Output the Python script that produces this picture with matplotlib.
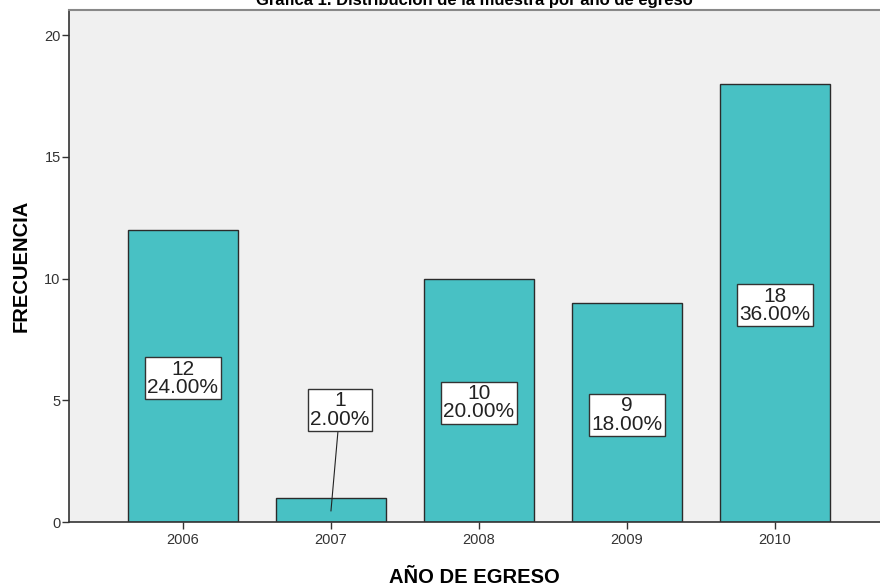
import matplotlib.pyplot as plt

# Distribución de la muestra por año de egreso
years = ["2006", "2007", "2008", "2009", "2010"]
freq = [12, 1, 10, 9, 18]
pct = [24.00, 2.00, 20.00, 18.00, 36.00]
# vertical position of each label box (in data units)
label_y = [5.9, 4.6, 4.9, 4.4, 8.9]

plt.rcParams['font.family'] = ['Liberation Sans', 'DejaVu Sans']

fig = plt.figure(figsize=(8.8, 5.88), dpi=100)
ax = fig.add_axes([69 / 880, 1 - 522 / 588, 811 / 880, 512 / 588])
ax.set_facecolor("#F0F0F0")

x = range(len(years))
ax.bar(x, freq, width=0.745, color="#48C1C4", edgecolor="#2b2b2b", linewidth=1, zorder=2)

box = dict(boxstyle="square,pad=0.12", fc="white", ec="#333333", lw=1)
for i in x:
    txt = "%d\n%.2f%%" % (freq[i], pct[i])
    if freq[i] < 2:
        # small bar: box above with a leader line
        ax.annotate(txt, xy=(i, freq[i] * 0.45), xytext=(i + 0.06, label_y[i]),
                    ha="center", va="center", fontsize=15, linespacing=0.95, color="#222222",
                    bbox=box,
                    arrowprops=dict(arrowstyle="-", color="#222222", lw=0.8,
                                    shrinkA=0, shrinkB=0), zorder=4)
    else:
        ax.text(i, label_y[i], txt, ha="center", va="center", fontsize=15, linespacing=0.95,
                color="#222222", bbox=box, zorder=4)

ax.set_xlim(-0.77, 4.71)
ax.set_ylim(0, 21.03)
ax.set_xticks(list(x))
ax.set_xticklabels(years)
ax.set_yticks([0, 5, 10, 15, 20])
ax.tick_params(axis="both", direction="out", length=5, width=1, colors="#333333", labelsize=10.5)
ax.tick_params(axis="y", pad=1)
ax.tick_params(axis="x", pad=3)

for s in ["left", "bottom"]:
    ax.spines[s].set_color("#333333")
    ax.spines[s].set_linewidth(1.2)
ax.spines["top"].set_color("#888888")
ax.spines["top"].set_linewidth(1.5)
ax.spines["right"].set_visible(False)

ax.set_xlabel("AÑO DE EGRESO", fontsize=14.5, fontweight="bold", labelpad=15)
ax.set_ylabel("FRECUENCIA", fontsize=14.5, fontweight="bold", labelpad=10)

fig.text(474 / 880, 1 - 1 / 588, "Gráfica 1. Distribución de la muestra por año de egreso",
         ha="center", va="center", fontsize=12, fontweight="bold")

plt.savefig("out.png", dpi=100)
